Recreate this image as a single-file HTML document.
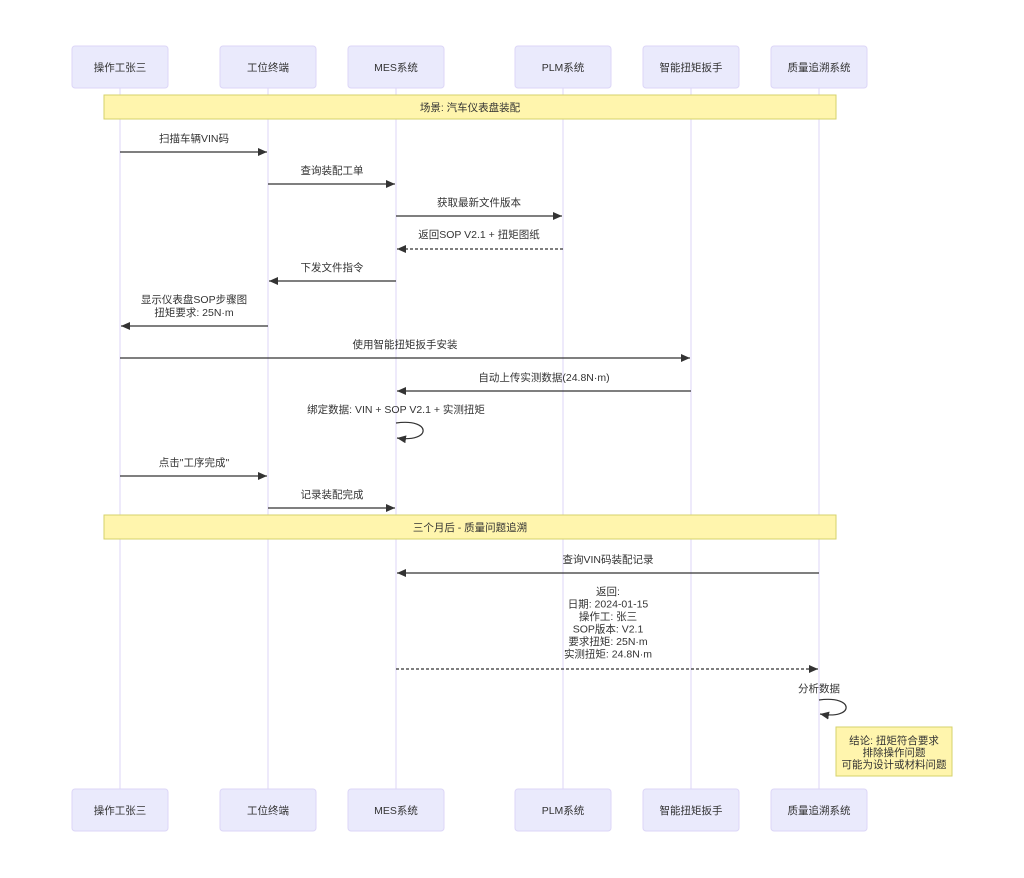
<html><head><style>body{margin:0;background:#fff}svg{display:block}text{font-family:"Liberation Sans","Noto Sans CJK SC",sans-serif;font-size:10.5px;fill:#333;text-anchor:middle}</style></head><body>
<svg width="1024" height="878" viewBox="0 0 1024 878" xmlns="http://www.w3.org/2000/svg">
<defs><marker id="a" markerWidth="10" markerHeight="8" refX="9" refY="4" orient="auto" markerUnits="userSpaceOnUse"><path d="M0,0L9,4L0,8z" fill="#333"/></marker></defs>
<g stroke="#dcd6f7" stroke-width="1">
<line x1="120" y1="88" x2="120" y2="789"/><line x1="268" y1="88" x2="268" y2="789"/><line x1="396" y1="88" x2="396" y2="789"/><line x1="563" y1="88" x2="563" y2="789"/><line x1="691" y1="88" x2="691" y2="789"/><line x1="819" y1="88" x2="819" y2="789"/>
</g>
<g fill="#eaeafc" stroke="#dcd6f7">
<rect x="72" y="46" width="96" height="42" rx="3"/><rect x="220" y="46" width="96" height="42" rx="3"/><rect x="348" y="46" width="96" height="42" rx="3"/><rect x="515" y="46" width="96" height="42" rx="3"/><rect x="643" y="46" width="96" height="42" rx="3"/><rect x="771" y="46" width="96" height="42" rx="3"/>
<rect x="72" y="789" width="96" height="42" rx="3"/><rect x="220" y="789" width="96" height="42" rx="3"/><rect x="348" y="789" width="96" height="42" rx="3"/><rect x="515" y="789" width="96" height="42" rx="3"/><rect x="643" y="789" width="96" height="42" rx="3"/><rect x="771" y="789" width="96" height="42" rx="3"/>
</g>
<g>
<text x="120" y="71">操作工张三</text><text x="268" y="71">工位终端</text><text x="396" y="71">MES系统</text><text x="563" y="71">PLM系统</text><text x="691" y="71">智能扭矩扳手</text><text x="819" y="71">质量追溯系统</text>
<text x="120" y="814">操作工张三</text><text x="268" y="814">工位终端</text><text x="396" y="814">MES系统</text><text x="563" y="814">PLM系统</text><text x="691" y="814">智能扭矩扳手</text><text x="819" y="814">质量追溯系统</text>
</g>
<g fill="#fff5ad" stroke="#d6d26b">
<rect x="104" y="95" width="732" height="24"/><rect x="104" y="515" width="732" height="24"/><rect x="836" y="727" width="116" height="49"/>
</g>
<text x="470" y="111">场景: 汽车仪表盘装配</text>
<text x="470" y="531">三个月后 - 质量问题追溯</text>
<text x="894" y="744">结论: 扭矩符合要求</text><text x="894" y="756">排除操作问题</text><text x="894" y="768">可能为设计或材料问题</text>
<g stroke="#333" stroke-width="1.2" fill="none" marker-end="url(#a)">
<line x1="120" y1="152" x2="267" y2="152"/>
<line x1="268" y1="184" x2="395" y2="184"/>
<line x1="396" y1="216" x2="562" y2="216"/>
<line x1="563" y1="249" x2="397" y2="249" stroke-dasharray="3,2"/>
<line x1="396" y1="281" x2="269" y2="281"/>
<line x1="268" y1="326" x2="121" y2="326"/>
<line x1="120" y1="358" x2="690" y2="358"/>
<line x1="691" y1="391" x2="397" y2="391"/>
<path d="M396,423 C432,418 432,443 397,438"/>
<line x1="120" y1="476" x2="267" y2="476"/>
<line x1="268" y1="508" x2="395" y2="508"/>
<line x1="819" y1="573" x2="397" y2="573"/>
<line x1="396" y1="669" x2="818" y2="669" stroke-dasharray="3,2"/>
<path d="M819,700 C855,695 855,720 820,714"/>
</g>
<text x="194" y="142">扫描车辆VIN码</text>
<text x="332" y="174">查询装配工单</text>
<text x="479" y="206">获取最新文件版本</text>
<text x="479" y="238">返回SOP V2.1 + 扭矩图纸</text>
<text x="332" y="271">下发文件指令</text>
<text x="194" y="303">显示仪表盘SOP步骤图</text><text x="194" y="316">扭矩要求: 25N·m</text>
<text x="405" y="348">使用智能扭矩扳手安装</text>
<text x="544" y="381">自动上传实测数据(24.8N·m)</text>
<text x="396" y="413">绑定数据: VIN + SOP V2.1 + 实测扭矩</text>
<text x="194" y="466">点击"工序完成"</text>
<text x="332" y="498">记录装配完成</text>
<text x="608" y="563">查询VIN码装配记录</text>
<text x="608" y="595">返回:</text><text x="608" y="607.5">日期: 2024-01-15</text><text x="608" y="620">操作工: 张三</text><text x="608" y="632.5">SOP版本: V2.1</text><text x="608" y="645">要求扭矩: 25N·m</text><text x="608" y="657.5">实测扭矩: 24.8N·m</text>
<text x="819" y="692">分析数据</text>
</svg></body></html>
